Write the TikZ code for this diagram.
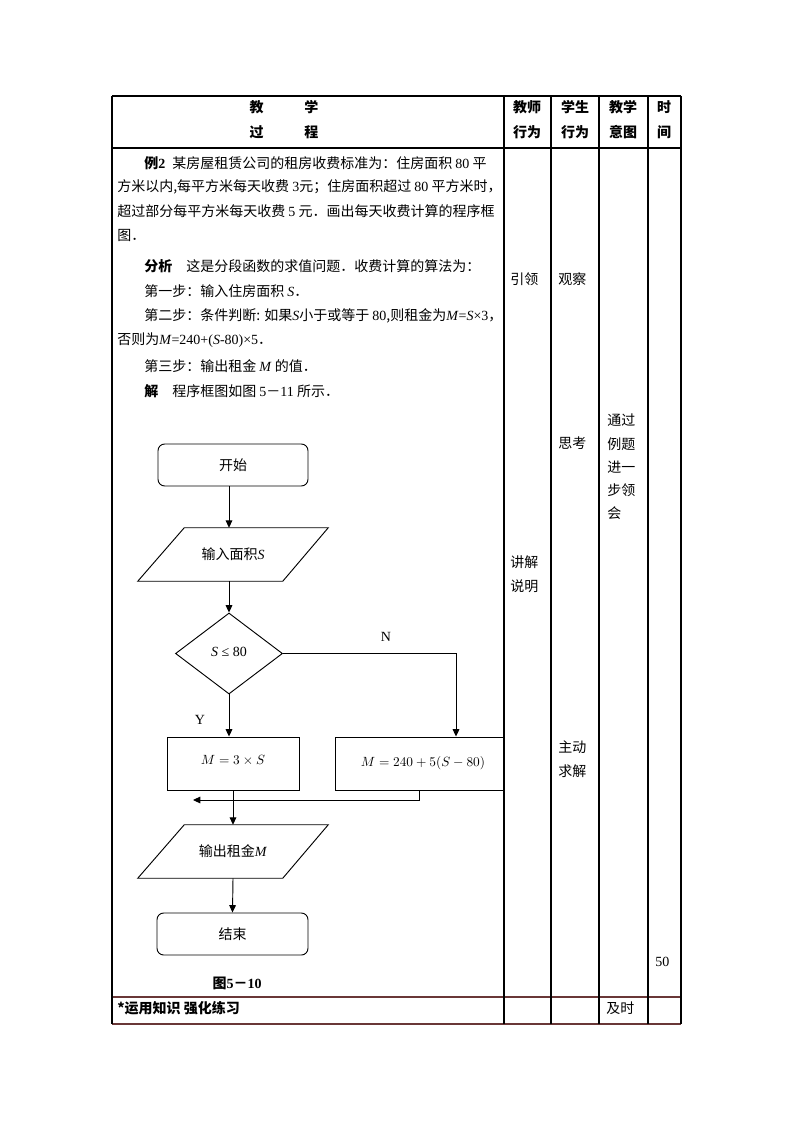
\documentclass[tikz,border=0pt]{standalone}
\usepackage[no-math]{fontspec}
\setmainfont{Noto Sans CJK SC}
\newfontfamily\tms{Liberation Serif}
\usetikzlibrary{shapes.geometric,arrows.meta,calc}
\definecolor{brn}{RGB}{105,55,55}
\def\px{0.75pt}
\tikzset{
 tline/.style={line width=1.1pt, draw=black},
 bline/.style={line width=1.1pt, draw=brn},
 fl/.style={line width=0.7pt},
 arr/.style={fl, -{Triangle[length=5.5pt,width=5pt]}},
 term/.style={draw, fl, rounded corners=5pt, minimum width=150*\px, minimum height=42*\px, inner sep=0pt},
 io/.style={minimum width=190*\px, minimum height=53*\px, inner sep=0pt},
 proc/.style={draw, fl, minimum height=53*\px, inner sep=0pt, font=\fontsize{10}{12}\selectfont},
 dec/.style={draw, fl, diamond, minimum width=107*\px, minimum height=81*\px, inner sep=0pt},
 txt/.style={anchor=west, inner sep=0pt},
 ctxt/.style={inner sep=0pt},
}
\begin{document}
\begin{tikzpicture}[x=0.75pt,y=-0.75pt,font=\fontsize{10.5}{12}\selectfont]
\fill[white] (0,0) rectangle (794,1123);
\useasboundingbox (0,0) rectangle (794,1123);
% table
\draw[tline] (112,96) -- (681,96);
\draw[tline] (112,148) -- (681,148);
\draw[bline] (112,997) -- (681,997);
\draw[bline] (112,1024) -- (681,1024);
\foreach \xx in {112,504,551,599,648,681}{\draw[tline] (\xx,96) -- (\xx,1024);}
% header
\node[ctxt] (h1) at (284,107) {\textbf{教\hspace{2.9em}学}};
\node[ctxt] (h2) at (284,132) {\textbf{过\hspace{2.9em}程}};
\node[ctxt] (h3) at (527,107) {\textbf{教师}};
\node[ctxt] (h4) at (527,132) {\textbf{行为}};
\node[ctxt] (h5) at (575,107) {\textbf{学生}};
\node[ctxt] (h6) at (575,132) {\textbf{行为}};
\node[ctxt] (h7) at (623,107) {\textbf{教学}};
\node[ctxt] (h8) at (623,132) {\textbf{意图}};
\node[ctxt] (h9) at (664,107) {\textbf{时}};
\node[ctxt] (h10) at (664,132) {\textbf{间}};
% body text
\node[txt] (p1) at (144,163) {\textbf{例{\tms 2}}\hspace{0.5em}某房屋租赁公司的租房收费标准为：住房面积 {\tms 80} 平};
\node[txt] (p2) at (117,187) {方米以内,每平方米每天收费 {\tms 3}元；住房面积超过 {\tms 80} 平方米时，};
\node[txt] (p3) at (117,211) {超过部分每平方米每天收费 {\tms 5} 元．画出每天收费计算的程序框};
\node[txt] (p4) at (117,235) {图．};
\node[txt] (p5) at (144,266) {\textbf{分析}\hspace{1em}这是分段函数的求值问题．收费计算的算法为：};
\node[txt] (p6) at (144,291) {第一步：输入住房面积 {\tms\textit{S}}．};
\node[txt] (p7) at (144,316) {第二步：条件判断: 如果{\tms\textit{S}}小于或等于 {\tms 80},则租金为{\tms\textit{M}=\textit{S}×3}，};
\node[txt] (p8) at (117,340) {否则为{\tms\textit{M}=240+(\textit{S}-80)×5}．};
\node[txt] (p9) at (144,366) {第三步：输出租金 {\tms\textit{M}} 的值．};
\node[txt] (p10) at (144,391) {\textbf{解}\hspace{1em}程序框图如图 {\tms 5}－{\tms 11} 所示．};
% side columns
\node[txt] (c1) at (510,279) {引领};
\node[txt] (c2) at (558,279) {观察};
\node[txt] (c3) at (558,443) {思考};
\node[txt] (c4) at (607,420) {通过};
\node[txt] (c5) at (607,444) {例题};
\node[txt] (c6) at (607,467) {进一};
\node[txt] (c7) at (607,490) {步领};
\node[txt] (c8) at (607,513) {会};
\node[txt] (c9) at (510,562) {讲解};
\node[txt] (c10) at (510,586) {说明};
\node[txt] (c11) at (558,747) {主动};
\node[txt] (c12) at (558,771) {求解};
\node[txt] (c13) at (655,962) {\tms 50};
\node[txt] (r1) at (117,1008) {\textbf{*运用知识 强化练习}};
\node[txt] (r2) at (606,1008) {及时};
% flowchart
\node[term] (start) at (233,465) {开始};
\node[io] (inp) at (233,554.5) {输入面积{\tms\textit{S}}};
\draw[fl] (inp.south west) -- ++(145,0) -- (inp.north east) -- ++(-144,0) -- cycle;
\node[dec] (dia) at (229,653.5) {\raisebox{3pt}{{\tms\textit{S} ≤ 80}}};
\node[proc, minimum width=132*\px] (b1) at (233,763.5) {\raisebox{6pt}{$M=3\times S$}};
\node[proc, minimum width=168*\px] (b2) at (419,763.5) {\hspace{6pt}$M=240+5(S-80)$};
\node[io] (out) at (233,851.5) {输出租金{\tms\textit{M}}};
\draw[fl] (out.south west) -- ++(145,0) -- (out.north east) -- ++(-144,0) -- cycle;
\node[term, minimum width=151*\px] (end) at (232.5,934) {结束};
\node[ctxt] (N) at (386,637) {\tms N};
\node[ctxt] (Y) at (200,720) {\tms Y};
\node[ctxt] (cap) at (237,983) {\textbf{图{\tms 5}－{\tms 10}}};
\coordinate (nb) at (456,0);
\coordinate (mg) at (193,800);
\draw[arr] (start.south -| dia.north) -- (inp.north -| dia.north);
\draw[arr] (inp.south -| dia.north) -- (dia.north);
\draw[arr] (dia.east) -| (nb |- b2.north);
\draw[arr] (dia.south) -- (dia.south |- b1.north);
\draw[arr] (b2.south) |- (mg);
\draw[arr] (b1.south) -- (out.north);
\draw[arr] (out.south) -- (end.north);
\end{tikzpicture}
\end{document}
